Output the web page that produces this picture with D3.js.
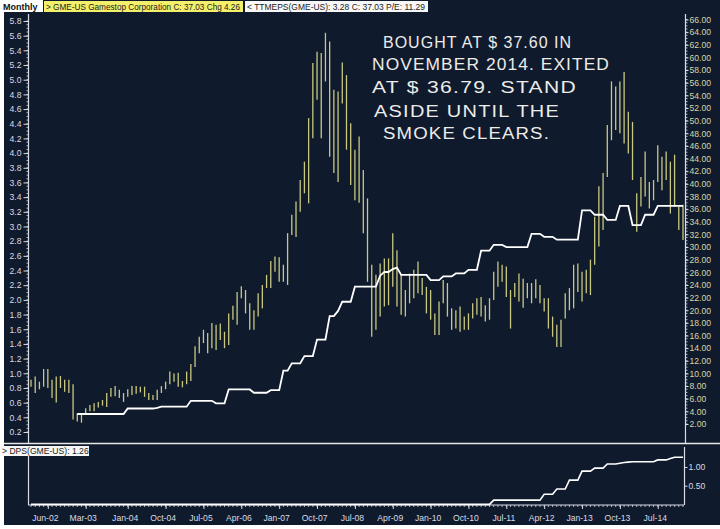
<!DOCTYPE html>
<html><head><meta charset="utf-8">
<script src="https://cdn.jsdelivr.net/npm/d3@7"></script>
<style>
body{margin:0;background:#fff;}
svg{display:block;}
text{font-family:"Liberation Sans",Arial,sans-serif;}
</style></head><body>
<svg id="c" width="720" height="529"></svg>
<script>
// ---- data (monthly, Feb-2002 .. Jan-2015) ----
const priceHigh = [
 9.0, 9.5, 8.7,10.7,10.7, 9.0, 9.5, 9.6, 9.0, 9.0,
 8.3, 3.7, 3.7, 4.5, 5.0, 5.3, 5.5, 5.8, 6.9, 7.7,
 8.0, 7.4, 6.9, 7.5, 8.0, 8.0, 7.9, 7.9, 6.9, 6.6,
 7.4, 8.0, 8.7,10.3,10.0,10.1, 8.8,10.3,11.5,14.3,
15.8,16.9,16.4,18.0,17.7,17.9,16.6,19.5,20.7,22.9,
23.8,23.2,21.1,20.0,22.7,24.0,25.6,27.8,28.5,28.4,
27.2,32.2,35.1,37.2,40.6,43.5,50.4,59.1,60.9,60.7,
63.9,62.5,54.9,54.6,59.2,57.2,49.6,45.4,47.5,42.2,
37.7,27.2,25.6,27.4,28.2,28.2,32.2,29.5,25.6,23.2,
25.8,26.4,27.7,25.1,23.7,23.2,19.5,21.4,24.8,24.3,
20.3,20.0,20.6,19.0,19.5,21.1,21.9,22.1,20.8,21.9,
26.1,27.7,27.2,26.9,23.2,24.3,25.8,25.0,24.3,24.3,
24.9,24.0,21.9,21.9,19.0,17.7,18.5,22.7,23.5,27.2,
27.4,26.1,26.4,28.0,34.8,39.6,41.7,49.3,56.2,55.4,
56.2,57.7,51.4,49.8,38.5,41.1,45.1,40.3,40.6,46.1,
44.3,45.1,43.5,44.6,36.4,36.7];
const priceLow = [
 7.9, 6.9, 7.5, 7.9, 7.7, 6.1, 5.4, 7.7, 7.1, 6.9,
 2.7, 2.4, 2.2, 3.7, 4.0, 4.0, 4.6, 4.9, 4.7, 6.3,
 6.4, 6.1, 5.5, 6.3, 6.6, 6.8, 7.0, 6.3, 5.8, 5.8,
 5.8, 6.9, 7.5, 8.3, 8.7, 7.9, 7.8, 8.3, 8.8,11.0,
13.2,14.8,13.2,14.0,13.7,15.3,14.0,14.5,18.5,17.7,
21.9,19.5,16.9,16.9,19.0,20.3,23.5,23.5,26.1,24.5,
24.5,24.0,31.9,31.6,35.6,38.5,36.9,47.2,53.3,47.2,
56.2,44.3,41.7,40.3,52.7,45.4,39.8,37.4,37.0,32.2,
24.5,15.8,16.9,19.0,20.6,20.8,23.7,20.6,19.3,19.0,
21.1,21.9,22.7,22.4,19.5,18.5,16.1,16.1,21.1,19.0,
16.9,17.1,16.6,16.9,16.9,18.7,19.3,19.0,18.2,18.5,
21.6,23.7,24.5,22.1,17.1,22.1,21.4,20.4,21.9,21.1,
21.9,21.1,19.8,17.1,15.8,14.2,14.2,18.7,20.0,20.3,
22.9,21.4,22.7,22.4,27.2,30.1,32.7,41.1,46.9,48.5,
48.0,46.4,44.8,40.6,32.4,36.4,38.0,36.1,37.4,40.3,
39.0,40.6,35.3,36.4,32.7,31.1];
const ttmEps = [
 null,null,null,null,null,null,null,null,null,null,
 null,0.445,0.445,0.445,0.445,0.445,0.445,0.445,0.445,0.445,
 0.445,0.445,0.445,0.52,0.52,0.52,0.52,0.52,0.52,0.52,
 0.53,0.545,0.545,0.545,0.545,0.545,0.545,0.545,0.625,0.625,
 0.625,0.625,0.625,0.625,0.59,0.59,0.59,0.78,0.78,0.78,
 0.78,0.78,0.78,0.735,0.735,0.735,0.735,0.77,0.77,0.77,
 1.035,1.035,1.136,1.136,1.136,1.235,1.235,1.235,1.46,1.46,
 1.46,1.78,1.78,1.85,1.975,1.975,1.975,2.18,2.18,2.18,
 2.18,2.18,2.18,2.33,2.38,2.38,2.42,2.44,2.34,2.34,
 2.34,2.34,2.34,2.34,2.34,2.27,2.27,2.27,2.32,2.32,
 2.32,2.36,2.36,2.36,2.41,2.41,2.41,2.67,2.67,2.67,
 2.75,2.75,2.75,2.72,2.72,2.72,2.72,2.72,2.72,2.90,
 2.90,2.90,2.86,2.86,2.86,2.82,2.82,2.82,2.82,2.82,
 2.82,3.22,3.22,3.22,3.16,3.16,3.16,3.09,3.09,3.09,
 3.28,3.28,3.28,3.02,3.02,3.02,3.16,3.16,3.16,3.28,
 3.28,3.28,3.28,3.28,3.28,3.28];
const dps = [
 0,0,0,0,0,0,0,0,0,0, 0,0,0,0,0,0,0,0,0,0,
 0,0,0,0,0,0,0,0,0,0, 0,0,0,0,0,0,0,0,0,0,
 0,0,0,0,0,0,0,0,0,0, 0,0,0,0,0,0,0,0,0,0,
 0,0,0,0,0,0,0,0,0,0, 0,0,0,0,0,0,0,0,0,0,
 0,0,0,0,0,0,0,0,0,0, 0,0,0,0,0,0,0,0,0,0,
 0,0,0,0,0,0,0,0,0,0,
 0.115,0.115,0.115,0.115,0.115,0.115,0.115,0.115,0.115,0.115,
 0.115,0.115,0.27,0.27,0.27,0.41,0.41,0.41,0.65,0.65,
 0.65,0.89,0.89,0.89,0.97,0.97,0.97,1.08,1.08,1.08,
 1.10,1.12,1.13,1.14,1.14,1.14,1.14,1.14,1.14,1.19,
 1.19,1.19,1.23,1.26,1.26,1.26];
const dateTickLabels = ["Jun-02","Mar-03","Jan-04","Oct-04","Jul-05","Apr-06","Jan-07","Oct-07","Jul-08",
  "Apr-09","Jan-10","Oct-10","Jul-11","Apr-12","Jan-13","Oct-13","Jul-14"];
const epsTicks = [0.2,0.4,0.6,0.8,1.0,1.2,1.4,1.6,1.8,2.0,2.2,2.4,2.6,2.8,3.0,3.2,3.4,3.6,3.8,4.0,4.2,4.4,4.6,4.8,5.0,5.2,5.4,5.6,5.8];
const priceTicks = [2,4,6,8,10,12,14,16,18,20,22,24,26,28,30,32,34,36,38,40,42,44,46,48,50,52,54,56,58,60,62,64,66];
const dpsTicks = [0.5,1.0];
const noteLines = ["BOUGHT AT $ 37.60 IN","NOVEMBER 2014. EXITED","AT $ 36.79. STAND","ASIDE UNTIL THE","SMOKE CLEARS."];

// ---- layout ----
const BG = "#101a2d", BAR = "#c9c880", AX = "#d8dce4";
const months = d3.timeMonth.range(new Date(2002,1,1), new Date(2015,1,1));
const parseM = d3.timeParse("%b-%y");
const svg = d3.select("#c");

svg.append("rect").attr("x",0).attr("y",0).attr("width",720).attr("height",529).attr("fill","#fff");
svg.append("rect").attr("x",4).attr("y",0).attr("width",716).attr("height",525).attr("fill",BG);

const x = d3.scalePoint().domain(months).range([31,683]);
const yP = d3.scaleLinear().domain([2,66]).range([424,19.5]);
const yE = d3.scaleLinear().domain([0.2,5.8]).range([432,21]);
const yD = d3.scaleLinear().domain([0,1]).range([504.4,467]);

// header
svg.append("rect").attr("x",0).attr("y",0).attr("width",43).attr("height",12).attr("fill","#fff");
svg.append("text").attr("x",3).attr("y",9.5).attr("font-size",9).attr("font-weight","bold").attr("fill","#111").text("Monthly");
svg.append("rect").attr("x",44).attr("y",1).attr("width",199).attr("height",11).attr("fill","#f4f06a");
svg.append("text").attr("x",46).attr("y",9.5).attr("font-size",8.6).attr("fill","#222")
  .attr("textLength",194).attr("lengthAdjust","spacingAndGlyphs")
  .text("> GME-US  Gamestop Corporation  C: 37.03  Chg 4.26");
svg.append("rect").attr("x",245).attr("y",1).attr("width",183).attr("height",11).attr("fill","#f7f7f7");
svg.append("text").attr("x",247).attr("y",9.5).attr("font-size",8.6).attr("fill","#222")
  .attr("textLength",178).attr("lengthAdjust","spacingAndGlyphs")
  .text("< TTMEPS(GME-US): 3.28  C: 37.03 P/E: 11.29");

// left EPS axis
const gL = svg.append("g").attr("transform","translate(28.5,0)");
gL.call(d3.axisLeft(yE).tickValues(epsTicks).tickFormat(d3.format(".1f")).tickSize(5).tickPadding(2));
gL.select(".domain").remove();
gL.append("line").attr("x1",0).attr("x2",0).attr("y1",14).attr("y2",443).attr("stroke",AX).attr("stroke-width",1.2);
gL.selectAll(".tick line").attr("stroke",AX);
gL.selectAll(".tick text").attr("fill",AX).attr("font-size",8.6).attr("font-family","Liberation Sans, Arial");
gL.selectAll(".minor").data(d3.range(0.2,5.85,0.05)).enter().append("line").attr("class","minor")
  .attr("x1",-2).attr("x2",0).attr("y1",d=>yE(d)).attr("y2",d=>yE(d)).attr("stroke",AX).attr("stroke-width",0.8);

// right price axis
const gR = svg.append("g").attr("transform","translate(685.5,0)");
gR.call(d3.axisRight(yP).tickValues(priceTicks).tickFormat(d3.format(".2f")).tickSize(3).tickPadding(1));
gR.select(".domain").remove();
gR.append("line").attr("x1",0).attr("x2",0).attr("y1",14).attr("y2",443).attr("stroke",AX).attr("stroke-width",1.2);
gR.selectAll(".tick line").attr("stroke",AX);
gR.selectAll(".tick text").attr("fill","#d9d6a2").attr("font-size",8.6).attr("font-family","Liberation Sans, Arial");
gR.selectAll(".minor").data(d3.range(2,66.1,0.5)).enter().append("line").attr("class","minor")
  .attr("x1",0).attr("x2",2).attr("y1",d=>yP(d)).attr("y2",d=>yP(d)).attr("stroke",AX).attr("stroke-width",0.8);

// price bars
svg.append("g").selectAll("line").data(months).enter().append("line")
  .attr("x1",d=>x(d)).attr("x2",d=>x(d))
  .attr("y1",(d,i)=>yP(priceHigh[i])).attr("y2",(d,i)=>yP(priceLow[i]))
  .attr("stroke",BAR).attr("stroke-width",1.3);

// EPS line
const epsLine = d3.line().defined((d,i)=>ttmEps[i]!=null).x(d=>x(d)).y((d,i)=>yE(ttmEps[i]));
svg.append("path").datum(months).attr("d",epsLine).attr("fill","none").attr("stroke","#fff").attr("stroke-width",1.8);

// separator
svg.append("line").attr("x1",4).attr("x2",720).attr("y1",443.5).attr("y2",443.5).attr("stroke","#e8e8e8").attr("stroke-width",1.6);

// lower panel
svg.append("line").attr("x1",28.5).attr("x2",28.5).attr("y1",447).attr("y2",505).attr("stroke",AX).attr("stroke-width",1.2);
const gB = svg.append("g").attr("transform","translate(0,505)");
gB.call(d3.axisBottom(x).tickValues(dateTickLabels.map(parseM)).tickFormat(d3.timeFormat("%b-%y")).tickSize(4).tickPadding(6));
gB.select(".domain").remove();
gB.append("line").attr("x1",28).attr("x2",684).attr("y1",0).attr("y2",0).attr("stroke",AX).attr("stroke-width",1.2);
gB.selectAll(".tick line").attr("stroke",AX);
gB.selectAll(".tick text").attr("fill",AX).attr("font-size",8.6).attr("dx",-3).attr("font-family","Liberation Sans, Arial");
gB.selectAll(".minor").data(months).enter().append("line").attr("class","minor")
  .attr("x1",d=>x(d)).attr("x2",d=>x(d)).attr("y1",0).attr("y2",2).attr("stroke",AX).attr("stroke-width",0.8);

const gD = svg.append("g").attr("transform","translate(684.5,0)");
gD.call(d3.axisRight(yD).tickValues(dpsTicks).tickFormat(d3.format(".2f")).tickSize(3).tickPadding(1));
gD.select(".domain").remove();
gD.append("line").attr("x1",0).attr("x2",0).attr("y1",447).attr("y2",505).attr("stroke",AX).attr("stroke-width",1.2);
gD.selectAll(".tick line").attr("stroke",AX);
gD.selectAll(".tick text").attr("fill",AX).attr("font-size",8.6).attr("font-family","Liberation Sans, Arial");

const dpsLine = d3.line().x(d=>x(d)).y((d,i)=>yD(dps[i]));
svg.append("path").datum(months).attr("d",dpsLine).attr("fill","none").attr("stroke","#fff").attr("stroke-width",1.6);

svg.append("rect").attr("x",0).attr("y",446).attr("width",89).attr("height",10).attr("fill","#f7f7f7");
svg.append("text").attr("x",2).attr("y",454).attr("font-size",8.6).attr("fill","#222").text("> DPS(GME-US): 1.26");

// handwritten note
const notePos = [[383,48,189],[372,70,238],[372,93,205],[374,117,186],[383,139,167]];
svg.append("g").selectAll("text").data(noteLines).enter().append("text")
  .attr("x",(d,i)=>notePos[i][0]).attr("y",(d,i)=>notePos[i][1])
  .attr("textLength",(d,i)=>notePos[i][2]).attr("lengthAdjust","spacingAndGlyphs")
  .attr("font-size",16).attr("font-family","Open Sans, DejaVu Sans, sans-serif").attr("font-weight",300)
  .attr("letter-spacing",1).attr("fill","#ecece8").text(d=>d);
</script>
</body></html>
